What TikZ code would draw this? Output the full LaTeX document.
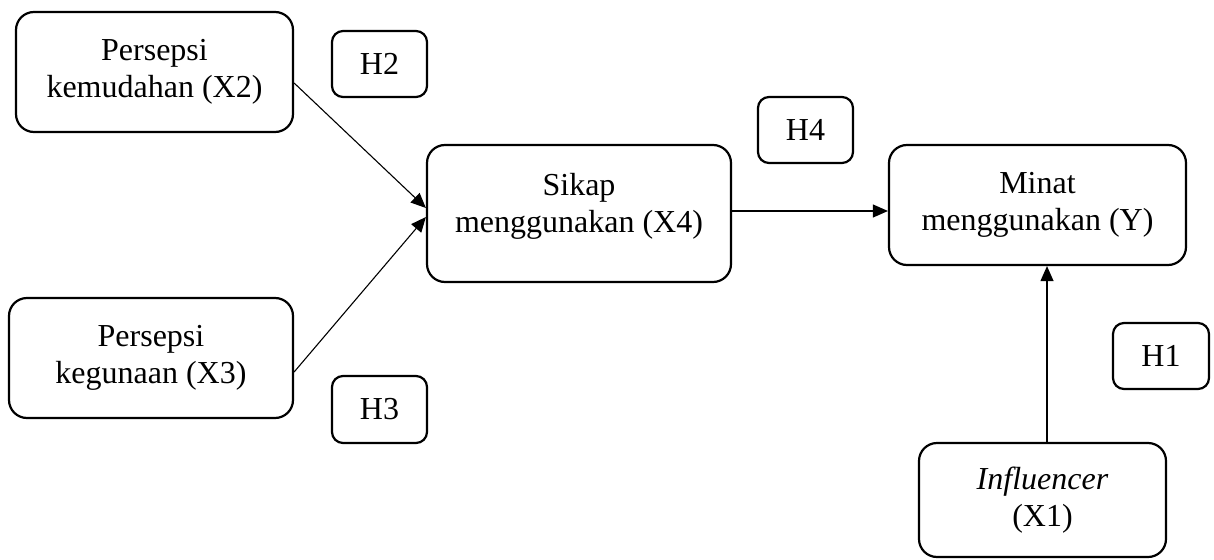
\documentclass[tikz,border=0pt]{standalone}
\usepackage{fontspec}
\setmainfont{Liberation Serif}
\usetikzlibrary{arrows.meta}
\begin{document}
\begin{tikzpicture}[x=1pt,y=-1pt,
  box/.style={draw, line width=2.2pt, rounded corners=18pt, align=center,
    inner sep=0pt, font=\fontsize{32}{37}\selectfont},
  hbox/.style={box, rounded corners=11pt},
  txt/.style={align=center, inner sep=0pt, font=\fontsize{32}{37}\selectfont},
  conn/.style={line width=1.1pt, -{Triangle[length=15pt,width=13pt]}}]
\useasboundingbox (0,0) rectangle (1214,559);
\node[box, minimum width=277pt, minimum height=120pt] (x2) at (154.5,72) {Persepsi\\kemudahan (X2)};
\node[box, minimum width=284pt, minimum height=120pt] (x3) at (151,358) {Persepsi\\kegunaan (X3)};
\node[box, minimum width=304pt, minimum height=137pt] (x4) at (579,213.5) {};
\node[txt] (x4t) at (579,206.5) {Sikap\\menggunakan (X4)};
\node[box, minimum width=297pt, minimum height=120pt] (y) at (1037.5,205) {Minat\\menggunakan (Y)};
\node[box, minimum width=247pt, minimum height=114pt] (x1) at (1042.5,500) {\textit{Influencer}\\(X1)};
\node[hbox, minimum width=95pt, minimum height=66pt] (h2) at (379.5,64) {H2};
\node[hbox, minimum width=95pt, minimum height=67pt] (h3) at (379.5,409.5) {H3};
\node[hbox, minimum width=95pt, minimum height=66pt] (h4) at (805.5,130) {H4};
\node[hbox, minimum width=96pt, minimum height=66pt] (h1) at (1161,356) {H1};
\draw[conn] ([yshift=-11pt]x2.east) -- ([yshift=5.5pt]x4.west);
\draw[conn] ([yshift=-14pt]x3.east) -- ([yshift=-3.5pt]x4.west);
\coordinate (a) at ([yshift=2.5pt]x4.east);
\draw[conn] (a) -- (a -| y.west);
\coordinate (b) at ([xshift=4.5pt]x1.north);
\draw[conn] (b) -- (b |- y.south);
\end{tikzpicture}
\end{document}
